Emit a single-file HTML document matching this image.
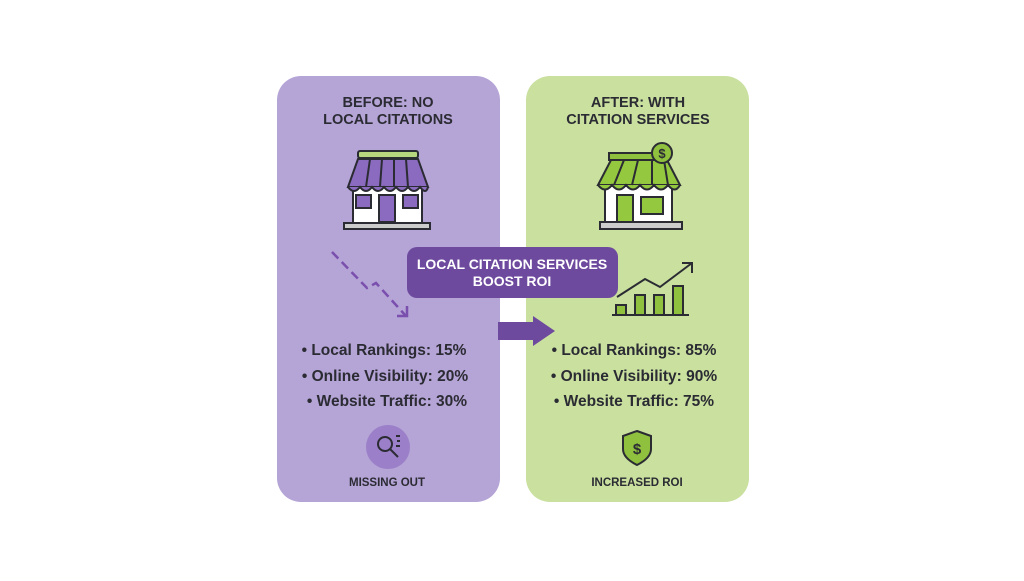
<!DOCTYPE html>
<html><head><meta charset="utf-8"><style>
body{margin:0;width:1024px;height:576px;background:#fff;overflow:hidden}
text{font-family:"Liberation Sans",sans-serif;font-weight:bold}
</style></head><body>
<svg width="1024" height="576" viewBox="0 0 1024 576" xmlns="http://www.w3.org/2000/svg">
<rect x="277" y="76" width="223" height="426" rx="24" fill="#b5a4d6"/>
<rect x="526" y="76" width="223" height="426" rx="24" fill="#c9e09f"/>
<g fill="#2b2b33" font-size="14.5" text-anchor="middle">
<text x="388" y="107">BEFORE: NO</text><text x="388" y="124">LOCAL CITATIONS</text>
<text x="638" y="107">AFTER: WITH</text><text x="638" y="124">CITATION SERVICES</text>
</g>
<!-- left store -->
<g stroke="#2b2b33" stroke-width="2">
<rect x="358" y="151" width="60" height="7" rx="2" fill="#b8d67e"/>
<rect x="353" y="186" width="69" height="37" fill="#fff"/>
<path d="M348 187 L358 159 H418 L428 187 Z" fill="#8a6bbf"/>
<path d="M348 187 q6 8 12 0 q6 8 12 0 q6 8 12 0 q6 8 12 0 q6 8 12 0 q6 8 12 0 q6 8 8 0" fill="#8a6bbf"/>
<path d="M370 159 L366 187 M382 159 L380 187 M394 159 L394 187 M406 159 L408 187" fill="none"/>
<rect x="356" y="195" width="15" height="13" fill="#8a6bbf"/>
<rect x="403" y="195" width="15" height="13" fill="#8a6bbf"/>
<rect x="379" y="195" width="16" height="27" fill="#8a6bbf"/>
<rect x="344" y="223" width="86" height="6" fill="#ccc"/>
</g>
<!-- right store -->
<g stroke="#2b2b33" stroke-width="2">
<rect x="609" y="153" width="46" height="7" fill="#8fc13f"/>
<rect x="605" y="185" width="67" height="37" fill="#fff"/>
<path d="M598 185 L611 160 H667 L680 185 Z" fill="#93c83f"/>
<path d="M598 185 q7 9 14 0 q7 9 14 0 q7 9 14 0 q7 9 14 0 q7 9 14 0 q7 9 12 0" fill="#93c83f"/>
<path d="M624 160 L614 185 M638 160 L632 185 M652 160 L652 185 M664 160 L668 185" fill="none"/>
<rect x="617" y="195" width="16" height="27" fill="#93c83f"/>
<rect x="641" y="197" width="22" height="17" fill="#93c83f"/>
<rect x="600" y="222" width="82" height="7" fill="#ccc"/>
<circle cx="662" cy="153" r="10" fill="#8fc13f"/>
</g>
<text x="662" y="158" font-size="13" text-anchor="middle" fill="#2b2b33">$</text>
<!-- dashed down -->
<path d="M332 252 L367 288 L376 283 L406 316" fill="none" stroke="#7a4fae" stroke-width="2.5" stroke-dasharray="9 5"/>
<path d="M397 316 H407 V306" fill="none" stroke="#7a4fae" stroke-width="2.5"/>
<!-- chart -->
<g stroke="#2b2b33" stroke-width="2" fill="#8fc13f">
<rect x="616" y="305" width="10" height="10"/>
<rect x="635" y="295" width="10" height="20"/>
<rect x="654" y="295" width="10" height="20"/>
<rect x="673" y="286" width="10" height="29"/>
<path d="M612 315 H689" fill="none"/>
<path d="M617 297 L645 279 L660 287 L692 263" fill="none"/>
<path d="M682 263 H692 V273" fill="none"/>
</g>
<!-- banner -->
<rect x="407" y="247" width="211" height="51" rx="10" fill="#6e4a9f"/>
<g fill="#fff" font-size="14" text-anchor="middle"><text x="512" y="269">LOCAL CITATION SERVICES</text><text x="512" y="286">BOOST ROI</text></g>
<path d="M498 322 H533 V316 L555 331 L533 346 V340 H498 Z" fill="#6e4a9f"/>
<!-- bullets -->
<g fill="#2b2b33" font-size="15.5" text-anchor="middle">
<text x="384" y="355">• Local Rankings: 15%</text>
<text x="385" y="381">• Online Visibility: 20%</text>
<text x="387" y="406">• Website Traffic: 30%</text>
<text x="634" y="355">• Local Rankings: 85%</text>
<text x="634" y="381">• Online Visibility: 90%</text>
<text x="634" y="406">• Website Traffic: 75%</text>
</g>
<!-- bottom icons -->
<circle cx="388" cy="447" r="22" fill="#9b7fc8"/>
<circle cx="385" cy="444" r="7" fill="none" stroke="#2b2b33" stroke-width="2"/>
<path d="M390 449 L398 457 M396 436 h4 M397 441 h3 M396 446 h4" stroke="#2b2b33" stroke-width="2"/>
<path d="M637 431 L651 436 V449 Q651 458 637 465 Q623 458 623 449 V436 Z" fill="#8fc13f" stroke="#2b2b33" stroke-width="2"/>
<text x="637" y="454" font-size="15" text-anchor="middle" fill="#2b2b33">$</text>
<g fill="#2b2b33" font-size="11.5" text-anchor="middle">
<text x="387" y="486">MISSING OUT</text><text x="637" y="486">INCREASED ROI</text></g>
</svg>
</body></html>
